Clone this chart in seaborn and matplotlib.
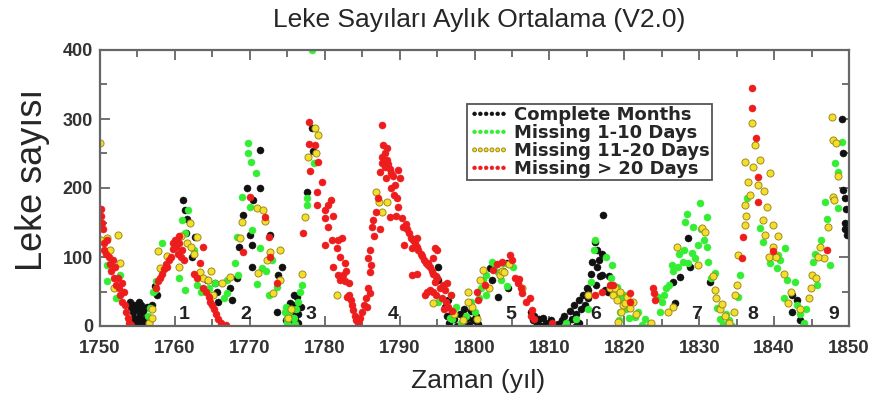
import pandas as pd
import seaborn as sns
import matplotlib.pyplot as plt

sns.set_style("ticks")
plt.rcParams['font.family'] = ['Liberation Sans', 'DejaVu Sans']

# monthly sunspot numbers, one list per data-quality class
complete_months = [
    (1754.0, 35), (1754.2, 28), (1754.4, 20), (1754.5, 12), (1754.7, 5), (1754.8, 0), (1755.0, 10),
    (1755.1, 25), (1755.3, 2), (1755.4, 18), (1755.5, 30), (1755.6, 8), (1755.8, 22), (1755.9, 3),
    (1756.1, 12), (1756.3, 28), (1754.6, 30), (1755.2, 35), (1756.5, 6), (1757.0, 30), (1757.3, 58),
    (1757.6, 45), (1761.1, 183), (1761.4, 168), (1761.6, 155), (1761.5, 135), (1762.3, 100),
    (1762.7, 129), (1764.3, 67), (1765.4, 62), (1765.6, 49), (1765.8, 35), (1767.4, 55), (1767.6, 38),
    (1768.3, 70), (1771.4, 255), (1769.6, 200), (1771.4, 200), (1770.4, 183), (1769.1, 161),
    (1770.0, 132), (1772.7, 132), (1768.6, 114), (1770.3, 117), (1770.3, 86), (1774.3, 86),
    (1773.8, 74), (1773.6, 20), (1774.8, 8), (1775.1, 15), (1775.4, 33), (1775.6, 22), (1775.8, 30),
    (1776.0, 10), (1776.3, 42), (1776.4, 18), (1776.5, 5), (1776.8, 28), (1775.9, 45), (1775.3, 3),
    (1777.6, 194), (1778.3, 287), (1778.4, 254), (1795.1, 86), (1795.1, 66), (1796.0, 28),
    (1796.3, 15), (1796.6, 5), (1797.0, 20), (1797.3, 10), (1797.6, 0), (1798.0, 18), (1798.3, 5),
    (1798.6, 25), (1799.0, 12), (1799.3, 2), (1799.5, 22), (1799.8, 8), (1800.2, 15), (1800.5, 3),
    (1796.5, 38), (1802.1, 84), (1802.5, 88), (1803.8, 80), (1804.5, 55), (1803.1, 42), (1804.3, 91),
    (1802.3, 67), (1807.5, 20), (1807.8, 8), (1808.0, 15), (1808.3, 3), (1808.6, 10), (1808.9, 0),
    (1809.2, 12), (1809.5, 5), (1809.8, 2), (1810.2, 8), (1810.5, 0), (1811.2, 3), (1811.7, 8),
    (1812.0, 15), (1812.4, 4), (1812.7, 22), (1813.0, 10), (1813.3, 30), (1813.6, 18), (1813.9, 38),
    (1814.2, 25), (1814.5, 45), (1814.8, 30), (1815.0, 55), (1815.2, 40), (1814.0, 5), (1813.5, 0),
    (1817.2, 161), (1816.1, 122), (1816.3, 110), (1815.7, 93), (1816.6, 95), (1817.0, 105),
    (1816.4, 85), (1817.0, 74), (1815.6, 75), (1816.8, 72), (1817.4, 52), (1816.2, 60), (1817.8, 50),
    (1818.0, 72), (1815.1, 52), (1828.5, 127), (1828.8, 86), (1827.4, 71), (1826.5, 64), (1831.4, 64),
    (1826.8, 33), (1842.4, 45), (1842.4, 20), (1843.4, 9), (1843.0, 38), (1849.0, 300), (1849.2, 251),
    (1849.2, 197), (1849.4, 185), (1849.6, 170), (1849.4, 150), (1849.7, 132), (1849.5, 140),
]

missing_1_10 = [
    (1750.0, 125), (1751.0, 88), (1752.7, 74), (1750.9, 65), (1752.2, 40), (1756.4, 15), (1756.7, 26),
    (1757.1, 49), (1757.3, 52), (1757.5, 65), (1758.3, 120), (1760.5, 70), (1761.7, 168),
    (1761.0, 154), (1761.3, 135), (1761.3, 52), (1762.5, 110), (1763.0, 60), (1765.4, 62),
    (1764.5, 55), (1765.0, 45), (1763.5, 50), (1769.8, 265), (1769.8, 250), (1770.2, 238),
    (1770.8, 222), (1769.0, 187), (1770.0, 173), (1770.3, 139), (1768.3, 129), (1771.4, 113),
    (1768.0, 91), (1771.6, 84), (1768.4, 74), (1767.0, 67), (1771.0, 61), (1773.6, 56), (1767.0, 48),
    (1774.7, 20), (1774.9, 10), (1772.2, 80), (1772.6, 45), (1773.0, 95), (1766.5, 40), (1775.0, 5),
    (1775.3, 20), (1775.6, 0), (1775.9, 12), (1776.2, 25), (1776.5, 35), (1776.7, 49), (1774.8, 28),
    (1776.0, 3), (1777.0, 60), (1777.6, 185), (1777.7, 175), (1778.6, 236), (1778.3, 400),
    (1795.1, 35), (1796.7, 12), (1797.0, 10), (1797.5, 28), (1798.2, 5), (1798.8, 15), (1799.5, 35),
    (1800.0, 20), (1800.6, 40), (1796.8, 45), (1800.9, 55), (1801.1, 67), (1801.6, 74), (1802.3, 93),
    (1802.7, 88), (1803.8, 91), (1803.2, 78), (1803.6, 66), (1804.3, 58), (1805.1, 86), (1801.6, 45),
    (1812.2, 5), (1813.6, 10), (1815.1, 25), (1816.1, 125), (1816.0, 110), (1815.6, 64), (1818.4, 88),
    (1817.5, 100), (1818.2, 70), (1819.0, 57), (1819.5, 40), (1819.4, 20), (1820.2, 25), (1820.6, 12),
    (1821.4, 13), (1821.8, 20), (1822.3, 2), (1822.8, 10), (1823.3, 0), (1819.3, 8), (1818.8, 48),
    (1820.0, 45), (1824.5, 42), (1825.0, 35), (1825.3, 45), (1825.6, 55), (1826.0, 60), (1826.4, 88),
    (1827.2, 86), (1827.8, 93), (1828.4, 163), (1828.1, 151), (1829.2, 143), (1830.1, 178),
    (1829.8, 117), (1829.0, 106), (1831.0, 158), (1828.5, 91), (1831.2, 93), (1832.1, 77),
    (1830.6, 125), (1831.6, 70), (1832.4, 26), (1832.8, 10), (1833.2, 3), (1833.6, 18), (1834.0, 8),
    (1834.4, 0), (1831.0, 115), (1829.4, 98), (1828.0, 110), (1826.5, 80), (1827.3, 105),
    (1830.3, 140), (1824.8, 20), (1835.2, 42), (1835.4, 74), (1836.4, 185), (1838.1, 142),
    (1838.5, 122), (1841.5, 113), (1839.5, 91), (1840.4, 84), (1841.7, 66), (1842.8, 64),
    (1840.5, 103), (1840.8, 95), (1841.3, 40), (1843.0, 30), (1843.5, 18), (1844.0, 5), (1844.3, 25),
    (1843.8, 0), (1845.2, 93), (1845.7, 59), (1847.5, 88), (1846.8, 180), (1848.5, 171),
    (1848.5, 223), (1848.1, 236), (1849.0, 267), (1846.3, 125), (1845.5, 105), (1847.0, 155),
]

missing_11_20 = [
    (1750.0, 265), (1750.2, 125), (1751.0, 127), (1752.4, 132), (1751.9, 55), (1752.7, 91),
    (1751.3, 110), (1756.5, 5), (1757.0, 12), (1756.9, 25), (1757.8, 108), (1758.0, 84),
    (1759.0, 102), (1760.5, 85), (1760.8, 130), (1761.6, 120), (1762.0, 149), (1762.2, 115),
    (1762.6, 105), (1763.0, 129), (1763.4, 78), (1763.8, 70), (1764.4, 67), (1764.8, 80),
    (1765.1, 45), (1766.3, 62), (1767.4, 71), (1771.0, 171), (1771.8, 168), (1772.0, 152),
    (1769.0, 151), (1768.7, 127), (1774.0, 110), (1772.7, 107), (1772.3, 96), (1771.1, 77),
    (1773.1, 48), (1774.0, 66), (1775.1, 12), (1775.5, 25), (1777.0, 75), (1777.4, 158),
    (1778.7, 287), (1779.1, 277), (1777.8, 245), (1778.8, 251), (1781.6, 45), (1786.8, 194),
    (1787.3, 180), (1788.3, 180), (1787.6, 165), (1794.5, 33), (1799.1, 49), (1797.3, 18),
    (1798.5, 8), (1799.6, 28), (1800.3, 10), (1799.1, 35), (1800.7, 66), (1801.1, 81), (1803.4, 74),
    (1803.7, 79), (1804.0, 78), (1804.6, 90), (1806.4, 55), (1801.9, 55), (1815.1, 45), (1818.1, 55),
    (1818.8, 55), (1818.5, 45), (1819.0, 38), (1819.4, 50), (1819.8, 30), (1820.1, 33), (1820.3, 42),
    (1820.7, 26), (1821.2, 35), (1819.2, 6), (1821.6, 18), (1819.6, 20), (1823.5, 5), (1826.5, 28),
    (1825.8, 20), (1827.0, 114), (1830.4, 142), (1830.8, 136), (1829.8, 88), (1831.9, 72),
    (1832.1, 52), (1832.3, 40), (1832.8, 25), (1833.4, 15), (1834.0, 5), (1834.6, 20), (1833.1, 32),
    (1835.2, 103), (1835.0, 60), (1834.8, 45), (1837.0, 294), (1837.5, 262), (1836.1, 238),
    (1836.5, 208), (1836.1, 175), (1836.1, 146), (1838.1, 240), (1839.5, 222), (1839.0, 172),
    (1838.5, 153), (1839.9, 146), (1838.8, 132), (1839.9, 114), (1839.3, 100), (1837.2, 230),
    (1836.8, 190), (1837.8, 205), (1838.6, 195), (1836.3, 160), (1840.5, 130), (1841.8, 33),
    (1841.3, 75), (1840.2, 100), (1843.5, 25), (1842.2, 50), (1846.1, 114), (1845.1, 74),
    (1845.6, 70), (1847.2, 143), (1847.8, 187), (1848.0, 182), (1848.5, 217), (1847.8, 270),
    (1847.7, 303), (1848.2, 265), (1846.6, 98), (1845.9, 100), (1844.6, 40), (1844.9, 55),
]

missing_over_20 = [
    (1750.1, 170), (1750.2, 160), (1750.3, 150), (1750.4, 140), (1750.5, 110), (1750.6, 120),
    (1750.8, 105), (1751.0, 125), (1751.2, 100), (1751.4, 90), (1751.5, 80), (1751.7, 95),
    (1751.9, 70), (1752.0, 85), (1752.2, 60), (1752.4, 70), (1752.5, 55), (1752.7, 45), (1752.9, 62),
    (1753.0, 35), (1753.2, 50), (1753.3, 30), (1753.5, 20), (1753.7, 12), (1753.9, 5), (1754.1, 2),
    (1757.5, 55), (1757.8, 65), (1758.0, 70), (1758.3, 75), (1758.6, 82), (1758.8, 90), (1759.0, 85),
    (1759.2, 95), (1759.5, 100), (1759.8, 112), (1760.0, 125), (1760.2, 115), (1760.4, 105),
    (1760.6, 120), (1760.8, 100), (1761.0, 110), (1761.2, 95), (1760.5, 130), (1759.7, 120),
    (1762.5, 75), (1763.0, 70), (1763.8, 114), (1763.4, 91), (1763.8, 55), (1764.2, 50), (1764.5, 42),
    (1764.7, 35), (1764.9, 30), (1765.2, 25), (1765.5, 18), (1765.8, 10), (1766.1, 5), (1766.4, 0),
    (1766.8, 2), (1770.0, 187), (1772.0, 158), (1772.6, 129), (1769.1, 107), (1772.7, 100),
    (1773.6, 62), (1777.1, 135), (1777.9, 296), (1778.7, 262), (1777.9, 264), (1779.1, 238),
    (1778.0, 225), (1779.6, 208), (1779.0, 194), (1780.4, 175), (1779.0, 175), (1780.0, 168),
    (1780.8, 182), (1781.1, 160), (1780.0, 157), (1780.4, 143), (1780.0, 117), (1781.0, 124),
    (1781.6, 113), (1782.0, 100), (1782.7, 91), (1781.8, 74), (1781.8, 125), (1782.3, 128),
    (1781.1, 86), (1782.0, 67), (1782.4, 74), (1782.7, 65), (1783.0, 42), (1783.3, 45), (1783.5, 38),
    (1783.7, 30), (1783.8, 23), (1784.1, 15), (1784.2, 8), (1784.5, 5), (1784.7, 12), (1783.2, 62),
    (1782.9, 80), (1785.0, 20), (1785.3, 30), (1785.6, 28), (1785.5, 40), (1785.8, 55), (1786.0, 48),
    (1786.0, 78), (1786.2, 88), (1785.8, 98), (1786.0, 110), (1786.4, 153), (1786.3, 143),
    (1787.1, 185), (1786.6, 130), (1786.9, 165), (1787.6, 291), (1787.8, 262), (1788.3, 258),
    (1788.1, 251), (1788.3, 240), (1787.7, 236), (1787.4, 223), (1787.6, 245), (1788.0, 230),
    (1788.5, 235), (1788.7, 228), (1788.9, 222), (1788.2, 215), (1789.1, 218), (1789.8, 226),
    (1790.0, 214), (1789.4, 204), (1788.8, 200), (1789.8, 172), (1789.6, 185), (1788.7, 158),
    (1787.4, 140), (1789.2, 190), (1789.5, 160), (1790.3, 157), (1790.5, 143), (1790.8, 148),
    (1791.0, 140), (1791.3, 135), (1791.5, 128), (1791.8, 125), (1792.0, 120), (1792.3, 115),
    (1792.5, 110), (1792.8, 105), (1793.0, 102), (1793.3, 95), (1793.5, 92), (1793.8, 88),
    (1794.0, 85), (1794.3, 80), (1794.5, 76), (1794.8, 72), (1795.0, 70), (1792.3, 128),
    (1791.6, 113), (1790.6, 117), (1791.7, 74), (1792.3, 76), (1794.5, 99), (1794.7, 113),
    (1795.0, 110), (1793.8, 91), (1794.7, 64), (1793.6, 49), (1794.0, 52), (1794.4, 50),
    (1795.7, 40), (1795.4, 55), (1795.8, 60), (1796.0, 52), (1796.2, 35), (1796.5, 28), (1796.8, 45),
    (1797.0, 22), (1795.9, 25), (1796.3, 62), (1793.4, 45), (1794.8, 45), (1800.5, 38), (1800.3, 50),
    (1801.4, 60), (1802.5, 81), (1803.7, 93), (1804.7, 103), (1805.0, 95), (1805.4, 70),
    (1805.8, 63), (1806.0, 68), (1806.4, 48), (1807.4, 40), (1806.9, 35), (1807.7, 23), (1806.2, 55),
    (1803.0, 90), (1807.6, 15), (1808.0, 10), (1810.3, 5), (1816.1, 45), (1818.1, 59), (1817.0, 50),
    (1818.5, 60), (1820.8, 35), (1820.8, 48), (1824.1, 38), (1824.0, 48), (1823.8, 55),
    (1837.0, 345), (1837.0, 316), (1837.6, 272), (1837.8, 216), (1835.9, 129), (1835.7, 98),
    (1837.9, 180), (1839.9, 108), (1847.0, 110),
]

legend_labels = ["Complete Months", "Missing 1-10 Days", "Missing 11-20 Days", "Missing > 20 Days"]
series = [complete_months, missing_1_10, missing_11_20, missing_over_20]
fill_colors = ["#111111", "#33ee33", "#f2df2c", "#ee1d1d"]
edge_colors = ["#111111", "#33ee33", "#a08a1c", "#ee1d1d"]

cycle_numbers = ["1", "2", "3", "4", "5", "6", "7", "8", "9"]
cycle_years = [1761.3, 1769.5, 1778.2, 1789.1, 1804.9, 1816.2, 1829.7, 1837.2, 1847.9]

frames = []
for lab, pts in zip(legend_labels, series):
    d = pd.DataFrame(pts, columns=["year", "count"])
    d["kind"] = lab
    frames.append(d)
df = pd.concat(frames, ignore_index=True)

fig = plt.figure(figsize=(8.75, 4.01), dpi=100)
ax = fig.add_axes([100 / 875, 75 / 401, 749 / 875, 276 / 401])

for lab, fc, ec in zip(legend_labels, fill_colors, edge_colors):
    sub = df[df["kind"] == lab]
    sns.scatterplot(data=sub, x="year", y="count", color=fc, edgecolor=ec,
                    linewidth=0.7 if lab == "Missing 11-20 Days" else 0.3,
                    s=26, label=lab, ax=ax, clip_on=True)

for num, yr in zip(cycle_numbers, cycle_years):
    ax.text(yr, 16, num, ha="center", va="center", fontsize=14, fontweight="bold", color="#222222")

ax.set_xlim(1750, 1850)
ax.set_ylim(0, 400)
ax.set_xticks(range(1750, 1851, 10))
ax.set_xticks(range(1755, 1850, 10), minor=True)
ax.set_yticks(range(0, 401, 100))
ax.set_yticks(range(50, 400, 100), minor=True)
ax.tick_params(which="both", direction="in", top=True, right=True, color="#666666", width=1.3)
ax.tick_params(which="major", length=7)
ax.tick_params(which="minor", length=5)
ax.tick_params(axis="x", pad=10, labelsize=13.5, labelcolor="#333333")
ax.tick_params(axis="y", pad=5, labelsize=13, labelcolor="#333333")
for t in ax.get_xticklabels() + ax.get_yticklabels():
    t.set_fontweight("bold")
for sp in ax.spines.values():
    sp.set_color("#666666")
    sp.set_linewidth(1.6)
ax.set_xlabel("")
ax.set_ylabel("")

leg = ax.legend(loc="upper left", bbox_to_anchor=((467 - 100) / 749, (326 - 104) / 276),
                scatterpoints=6, scatteryoffsets=[0.5], markerscale=0.55, handlelength=2.2,
                handletextpad=0.3, labelspacing=0.0, borderpad=0.12, borderaxespad=0,
                fancybox=False, framealpha=1, edgecolor="#555555",
                prop={"family": "DejaVu Sans", "size": 13, "weight": "bold"})
leg.get_frame().set_linewidth(1.3)

fig.text(479 / 875, 1 - 20 / 401, "Leke Sayıları Aylık Ortalama (V2.0)", ha="center", va="center",
         fontsize=19)
fig.text(478 / 875, 1 - 381 / 401, "Zaman (yıl)", ha="center", va="center", fontsize=19)
fig.text(33 / 875, 1 - 180 / 401, "Leke sayısı", ha="center", va="center", rotation=90, fontsize=26)

plt.savefig("out.png", dpi=100)
plt.close()
